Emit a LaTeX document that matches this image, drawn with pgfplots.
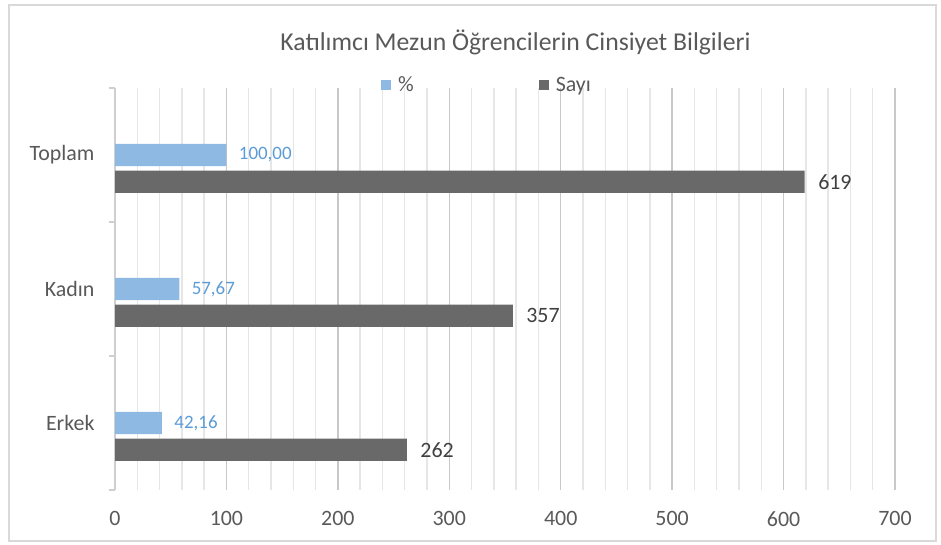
\documentclass[border=0pt]{standalone}
\usepackage{pgfplots}
\pgfplotsset{compat=1.18}
\usepackage{fontspec}
\setmainfont{Carlito}
\definecolor{barblue}{HTML}{8DB9E2}
\definecolor{labblue}{HTML}{5B9BD5}
\definecolor{bargray}{HTML}{696969}
\definecolor{txtgray}{HTML}{595959}
\definecolor{darktxt}{HTML}{404040}
\definecolor{majgrid}{HTML}{C8C8C8}
\definecolor{mingrid}{HTML}{E6E6E6}
\definecolor{framec}{HTML}{D9D9D9}
\definecolor{axisc}{HTML}{CFCFCF}
\begin{document}
\begin{tikzpicture}
\path[use as bounding box] (0bp,0bp) rectangle (941bp,545bp);
\draw[framec, line width=1.5bp] (9bp,4bp) rectangle (936bp,540bp);
\node[font=\fontsize{25.8}{30}\selectfont, text=txtgray] at (515.5bp,503bp) {Katılımcı Mezun Öğrencilerin Cinsiyet Bilgileri};
\begin{axis}[
  at={(115bp,55bp)}, anchor=south west, scale only axis,
  width=780bp, height=402bp,
  xmin=0, xmax=700, ymin=-0.5, ymax=2.5,
  xbar, bar width=0.165,
  clip=false,
  axis lines*=left,
  axis line style={-},
  x axis line style={draw=none},
  y axis line style={draw=axisc, line width=1.5bp},
  xtick={0,100,...,700},
  minor x tick num=4,
  xmajorgrids, xminorgrids,
  major grid style={majgrid, line width=1.5bp},
  minor grid style={mingrid, line width=1.5bp},
  x tick style={draw=none},
  ytick={-0.5,0.5,1.5,2.5},
  yticklabels={{},{},{},{}},
  y tick style={draw=axisc, line width=1.5bp},
  major tick length=6bp,
  tick align=outside,
  extra y ticks={0,1,2},
  extra y tick labels={Erkek,Kadın,Toplam},
  extra y tick style={major tick length=0pt, y tick style={draw=none}},
  /pgf/number format/assume math mode=true,
  x tick label style={font=\fontsize{22}{26}\selectfont, text=txtgray, yshift=-12bp},
  y tick label style={font=\fontsize{22}{26}\selectfont, text=txtgray, xshift=-17bp},
  legend columns=2,
  legend style={draw=none, fill=none, at={(axis description cs:0.477,1.0075)}, anchor=center,
    font=\fontsize{22}{25}\selectfont, text=txtgray,
    /tikz/every odd column/.append style={column sep=5bp},
    /tikz/every even column/.append style={column sep=123bp}},
  legend image code/.code={\fill[#1, draw=none] (0bp,-5bp) rectangle (10bp,5bp);},
]
\addplot[fill=barblue, draw=none, bar shift=0, point meta=x,
  nodes near coords={\pgfmathprintnumber[fixed,fixed zerofill,precision=2,use comma]{\pgfplotspointmeta}},
  nodes near coords style={font=\fontsize{19}{22}\selectfont, text=labblue, anchor=west, xshift=9bp}]
  coordinates {(42.16,0) (57.67,1) (100,2)};
\addlegendentry{\%}
\addplot[fill=bargray, draw=none, bar shift=-0.2, point meta=x,
  nodes near coords={\pgfmathprintnumber[fixed,precision=0]{\pgfplotspointmeta}},
  nodes near coords style={font=\fontsize{22}{26}\selectfont, text=darktxt, anchor=west, xshift=10bp}]
  coordinates {(262,0) (357,1) (619,2)};
\addlegendentry{Sayı}
\end{axis}
\end{tikzpicture}
\end{document}
